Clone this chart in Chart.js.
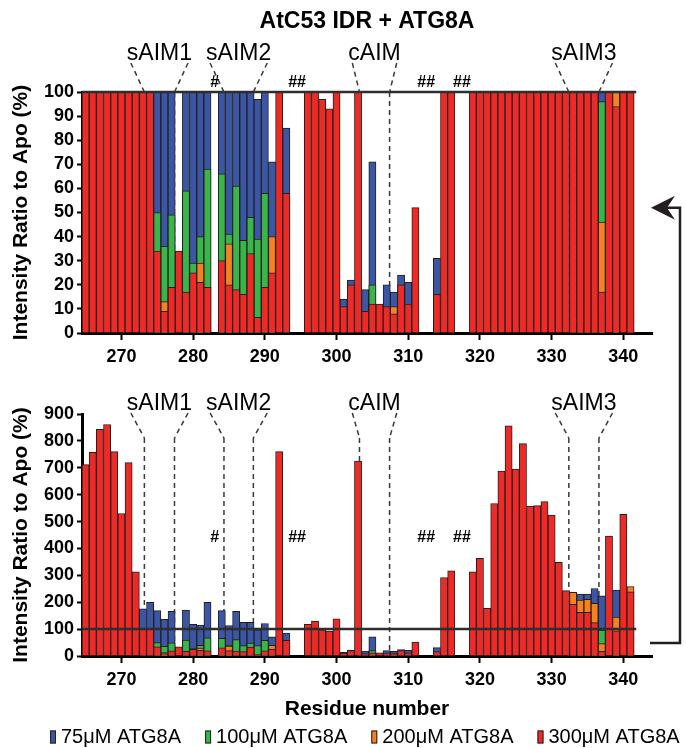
<!DOCTYPE html>
<html lang="en">
<head>
<meta charset="UTF-8">
<title>AtC53 IDR + ATG8A</title>
<script src="https://cdn.jsdelivr.net/npm/chart.js"></script>
<style>
  body { margin: 0; background: #fff; }
  #wrap { position: relative; width: 686px; height: 748px; }
  #topChart { position: absolute; left: 0; top: 0; }
  #botChart { position: absolute; left: 0; top: 380px; }
</style>
</head>
<body>
<div id="wrap">
  <canvas id="topChart" width="686" height="380"></canvas>
  <canvas id="botChart" width="686" height="368"></canvas>
</div>
<script>
// residues 265 - 341
const residues = [
  265, 266, 267, 268, 269, 270, 271, 272, 273, 274,
  275, 276, 277, 278, 279, 280, 281, 282, 283, 284,
  285, 286, 287, 288, 289, 290, 291, 292, 293, 294,
  295, 296, 297, 298, 299, 300, 301, 302, 303, 304,
  305, 306, 307, 308, 309, 310, 311, 312, 313, 314,
  315, 316, 317, 318, 319, 320, 321, 322, 323, 324,
  325, 326, 327, 328, 329, 330, 331, 332, 333, 334,
  335, 336, 337, 338, 339, 340, 341
];

// intensity ratio to apo (%), one value per residue, null = not assigned
const blue75 = [
  null, null, null, null, null, null, null, null, 175, 200,
  169, 136, 166, null, 171, 118, 115, 200, null, 169,
  113, 166, 125, 125, 97, 121, 71, null, 85, null,
  null, null, null, null, null, null, 14, 22, null, 18,
  71, null, 20, 17, 24, 21, null, null, null, 31,
  null, null, null, null, null, null, null, null, null, null,
  null, null, null, null, null, null, null, null, null, 230,
  230, 251, 224, null, 245, null, null
];
const green100 = [
  null, null, null, null, null, null, null, null, null, null,
  50, 36, 49, null, 59, 29, 40, 68, null, 66,
  41, 61, 38.5, 48, 39, 58, null, null, null, null,
  null, null, null, null, null, null, null, null, null, null,
  20, null, null, null, null, null, null, null, null, null,
  null, null, null, null, null, null, null, null, null, null,
  null, null, null, null, null, null, null, null, null, null,
  null, null, 96, null, null, null, null
];
const orange200 = [
  null, null, null, null, null, null, null, null, null, null,
  null, 13, null, null, null, null, 29, null, null, null,
  37, null, null, null, null, null, 40, null, null, null,
  null, null, null, null, null, null, null, null, null, null,
  null, null, null, 11, null, null, null, null, null, null,
  null, null, null, null, null, null, null, null, null, null,
  null, null, null, null, null, null, null, null, 237, 208,
  211, 196, 46, null, 145, null, 258
];
const red300 = [
  712, 757, 843, 861, 760, 530, 719, 313, 100, 100,
  34, 9, 19, 34, 17, 25, 21, 19, null, 30,
  20, 18, 16, 33, 6.5, 19, 25, 760, 58, null,
  null, 118, 130, 97, 93, 138, 11, 20, 725, 9,
  12, 12, 11, 8, 20, 12, 52, null, null, 16,
  292, 317, null, null, 313, 363, 177, 567, 688, 856,
  695, 790, 558, 559, 574, 524, 348, 243, 192, 162,
  162, 124, 17, 446, 94, 527, 239
];

const concLabels = ['75μM ATG8A', '100μM ATG8A', '200μM ATG8A', '300μM ATG8A'];
const concColors = ['#3A56A5', '#3AB54A', '#F5821F', '#EE2A26'];
const concValues = [blue75, green100, orange200, red300];

const xTicks = [270, 280, 290, 300, 310, 320, 330, 340];
const topYTicks = [0, 10, 20, 30, 40, 50, 60, 70, 80, 90, 100];
const botYTicks = [0, 100, 200, 300, 400, 500, 600, 700, 800, 900];

// motif brackets and unassigned residue marks
const aimLabels = ['sAIM1', 'sAIM2', 'cAIM', 'sAIM3'];
const aimStarts = [273.2, 284.3, 303.2, 332.4];
const aimEnds = [277.4, 288.4, 307.4, 336.6];
const hashLabels = ['#', '##', '##', '##'];
const hashResidues = [283, 294.5, 312.5, 317.5];

const FONT = 'Arial, "Liberation Sans", Helvetica, sans-serif';
Chart.defaults.font.family = FONT;
Chart.defaults.color = '#000';

const decorPlugin = {
  id: 'decor',
  beforeDatasetsDraw(chart, args, opts) {
    const { ctx, chartArea, scales } = chart;
    ctx.save();
    ctx.strokeStyle = '#3a3a3a';
    ctx.lineWidth = 1.5;
    ctx.setLineDash([5, 4]);
    aimStarts.concat(aimEnds).forEach(r => {
      const px = scales.x.getPixelForValue(r);
      ctx.beginPath();
      ctx.moveTo(px, opts.funnelBottom);
      ctx.lineTo(px, chartArea.bottom);
      ctx.stroke();
    });
    ctx.restore();
  },
  afterDatasetsDraw(chart, args, opts) {
    const { ctx, chartArea, scales } = chart;
    const x = scales.x, y = scales.y;
    ctx.save();

    // reference line at 100 %
    const y100 = y.getPixelForValue(100);
    ctx.strokeStyle = '#2e2e2e';
    ctx.lineWidth = 2.5;
    ctx.beginPath();
    ctx.moveTo(chartArea.left, y100);
    ctx.lineTo(x.getPixelForValue(341.8), y100);
    ctx.stroke();

    // motif labels with dashed funnels
    ctx.font = '23px ' + FONT;
    ctx.fillStyle = '#000';
    ctx.textAlign = 'center';
    ctx.textBaseline = 'alphabetic';
    aimLabels.forEach((lab, i) => {
      const x0 = x.getPixelForValue(aimStarts[i]);
      const x1 = x.getPixelForValue(aimEnds[i]);
      const cx = (x0 + x1) / 2;
      ctx.fillText(lab, cx, opts.labelY);
      const half = ctx.measureText(lab).width / 2 - 4;
      ctx.strokeStyle = '#3a3a3a';
      ctx.lineWidth = 1.5;
      ctx.setLineDash([5, 4]);
      ctx.beginPath();
      ctx.moveTo(cx - half, opts.funnelTop);
      ctx.lineTo(x0, opts.funnelBottom);
      ctx.moveTo(cx + half, opts.funnelTop);
      ctx.lineTo(x1, opts.funnelBottom);
      ctx.stroke();
      ctx.setLineDash([]);
    });

    // # marks
    ctx.font = 'bold 16px ' + FONT;
    ctx.textBaseline = 'middle';
    const hy = opts.hashY != null ? opts.hashY : y.getPixelForValue(opts.hashValue);
    hashLabels.forEach((h, i) => {
      ctx.fillText(h, x.getPixelForValue(hashResidues[i]), hy);
    });

    // title
    if (opts.title) {
      ctx.font = 'bold 23px ' + FONT;
      ctx.fillText(opts.title, (chartArea.left + chartArea.right) / 2, 22);
    }

    // connecting arrow
    const xv = chartArea.right + 28;
    ctx.strokeStyle = '#231F20';
    ctx.fillStyle = '#231F20';
    ctx.lineWidth = 2.5;
    if (opts.panel === 'top') {
      const ya = y.getPixelForValue(52);
      const tip = chartArea.right - 1;
      ctx.beginPath();
      ctx.moveTo(xv, chart.height);
      ctx.lineTo(xv, ya);
      ctx.lineTo(tip + 16, ya);
      ctx.stroke();
      ctx.beginPath();
      ctx.moveTo(tip, ya);
      ctx.lineTo(tip + 24, ya - 12);
      ctx.lineTo(tip + 16, ya);
      ctx.lineTo(tip + 24, ya + 12);
      ctx.closePath();
      ctx.fill();
    } else {
      const yb = y100 + 14;
      ctx.beginPath();
      ctx.moveTo(xv, 0);
      ctx.lineTo(xv, yb);
      ctx.lineTo(chartArea.right - 2, yb);
      ctx.stroke();
    }

    // legend
    if (opts.legendY) {
      ctx.font = '20px ' + FONT;
      ctx.textAlign = 'left';
      ctx.textBaseline = 'middle';
      ctx.lineWidth = 1;
      let lx = 50;
      concLabels.forEach((lab, i) => {
        ctx.fillStyle = concColors[i];
        ctx.fillRect(lx, opts.legendY - 6.5, 6, 13);
        ctx.strokeStyle = '#231F20';
        ctx.strokeRect(lx + 0.5, opts.legendY - 6, 5, 12);
        ctx.fillStyle = '#000';
        ctx.fillText(lab, lx + 11, opts.legendY);
        lx += 11 + ctx.measureText(lab).width + 24;
      });
    }
    ctx.restore();
  }
};

function buildData(isTop) {
  return {
    datasets: concValues.map((vals, i) => ({
      label: concLabels[i],
      data: residues.map((r, j) => ({ x: r, y: vals[j] })),
      backgroundColor: concColors[i],
      borderColor: '#231F20',
      borderWidth: 1,
      grouped: false,
      order: concValues.length - i,
      barPercentage: 1,
      categoryPercentage: 1,
      clip: isTop ? { left: false, right: false, top: 0, bottom: false } : false
    }))
  };
}

function makeOptions(isTop) {
  const yTicks = isTop ? topYTicks : botYTicks;
  return {
    responsive: false,
    animation: false,
    events: [],
    layout: { padding: { top: isTop ? 92 : 34, right: 34, bottom: isTop ? 0 : 26, left: 0 } },
    scales: {
      x: {
        type: 'linear',
        min: 264.5,
        max: 344,
        offset: false,
        grid: { display: true, drawOnChartArea: false, offset: false, tickLength: 7, tickWidth: 2, tickColor: '#000' },
        border: { display: true, color: '#000', width: 3 },
        ticks: { font: { size: 18, weight: 'bold' }, padding: 6, maxRotation: 0, autoSkip: false },
        afterBuildTicks: s => { s.ticks = xTicks.map(v => ({ value: v })); },
        afterFit: s => { s.height = isTop ? 47 : 66; },
        title: {
          display: !isTop,
          text: 'Residue number',
          font: { size: 21, weight: 'bold' },
          padding: { top: 4, bottom: 0 }
        }
      },
      y: {
        min: 0,
        max: isTop ? 100 : 900,
        grid: { display: true, drawOnChartArea: false, tickLength: 5, tickWidth: 2, tickColor: '#000' },
        border: { display: true, color: '#000', width: 3 },
        ticks: { font: { size: 18, weight: 'bold' }, padding: 3, autoSkip: false },
        afterBuildTicks: s => { s.ticks = yTicks.map(v => ({ value: v })); },
        afterFit: s => { s.width = 82; },
        title: {
          display: true,
          text: 'Intensity Ratio to Apo (%)',
          font: { size: 21, weight: 'bold' },
          padding: { top: 9, bottom: 0 }
        }
      }
    },
    plugins: {
      legend: { display: false },
      tooltip: { enabled: false },
      decor: isTop
        ? { panel: 'top', title: 'AtC53 IDR + ATG8A', labelY: 60, funnelTop: 63, funnelBottom: 92, hashY: 83 }
        : { panel: 'bottom', labelY: 30, funnelTop: 33, funnelBottom: 58, hashValue: 440, legendY: 357 }
    }
  };
}

new Chart(document.getElementById('topChart'), {
  type: 'bar',
  data: buildData(true),
  options: makeOptions(true),
  plugins: [decorPlugin]
});

new Chart(document.getElementById('botChart'), {
  type: 'bar',
  data: buildData(false),
  options: makeOptions(false),
  plugins: [decorPlugin]
});
</script>
</body>
</html>
